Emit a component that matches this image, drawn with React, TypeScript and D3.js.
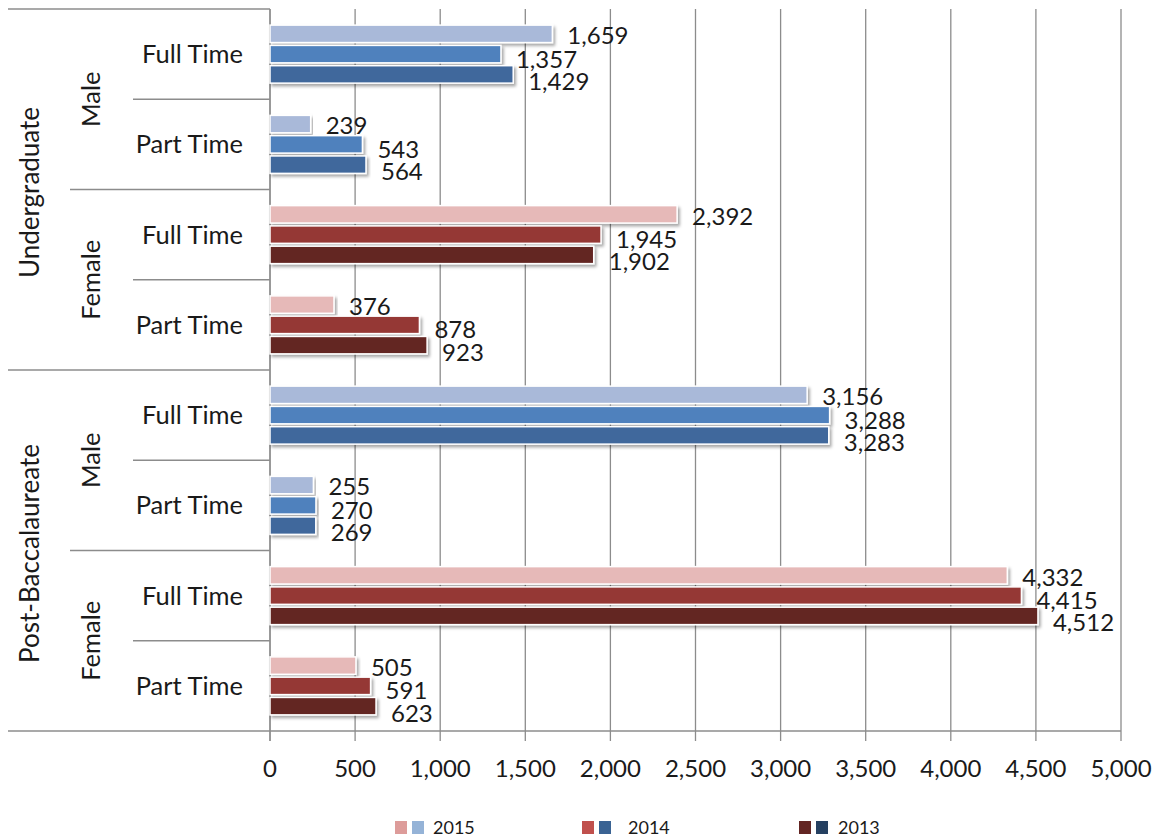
import React from "react";
import * as d3 from "d3";

const years = ["2015", "2014", "2013"];
const levels = ["Undergraduate", "Post-Baccalaureate"];
const genders = ["Male", "Female"];
const statuses = ["Full Time", "Part Time"];

// rows in order: level > gender > status
const values2015 = [1659, 239, 2392, 376, 3156, 255, 4332, 505];
const values2014 = [1357, 543, 1945, 878, 3288, 270, 4415, 591];
const values2013 = [1429, 564, 1902, 923, 3283, 269, 4512, 623];
const xTicks = [0, 500, 1000, 1500, 2000, 2500, 3000, 3500, 4000, 4500, 5000];

const maleColors = ["#A9B9D9", "#4F81BD", "#41689C"];
const femaleColors = ["#E6B9B8", "#953735", "#632523"];
const legendFemale = ["#DD9C9A", "#C0504D", "#632523"];
const legendMale = ["#95B3D7", "#3A6393", "#254061"];

const FONT = "Lato, 'Open Sans', sans-serif";

export default function App() {
  const W = 1156, H = 837;
  const left = 270, right = 1121, top = 9, bottom = 731;
  const x = d3.scaleLinear().domain([0, 5000]).range([left, right]);

  const rows: { level: string; gender: string; status: string; vals: number[] }[] = [];
  let k = 0;
  levels.forEach((l) =>
    genders.forEach((g) =>
      statuses.forEach((s) => {
        rows.push({ level: l, gender: g, status: s, vals: [values2015[k], values2014[k], values2013[k]] });
        k++;
      })
    )
  );

  const y = d3.scaleBand<number>().domain(d3.range(rows.length)).range([top, bottom]).padding(0);
  const rowH = y.step();
  const fmt = d3.format(",");
  const labelDy = [2, 5, 7];

  const levelSpan = rowH * 4;
  const genderSpan = rowH * 2;

  return (
    <div style={{ position: "absolute", left: 0, top: 0 }}>
      <svg width={W} height={H} style={{ display: "block", background: "#fff" }} fontFamily={FONT}>
        <defs>
          <filter id="shadow" x="-5%" y="-30%" width="110%" height="180%">
            <feDropShadow dx="2" dy="2.5" stdDeviation="1.5" floodColor="#000" floodOpacity="0.35" />
          </filter>
        </defs>
        {/* gridlines + ticks */}
        {xTicks.map((t) => (
          <line key={"g" + t} x1={x(t)} x2={x(t)} y1={top} y2={bottom + 10} stroke="#8C8C8C" strokeWidth={1.3} />
        ))}
        {/* bottom axis */}
        <line x1={8} x2={right} y1={bottom} y2={bottom} stroke="#8C8C8C" strokeWidth={1.3} />
        {/* left axis */}
        <line x1={left} x2={left} y1={top} y2={bottom + 10} stroke="#8C8C8C" strokeWidth={1.3} />
        {/* category separator lines */}
        {d3.range(rows.length + 1).map((i) => {
          const yy = top + i * rowH;
          let x1 = 133;
          if (i % 4 === 0) x1 = 8;
          else if (i % 2 === 0) x1 = 70;
          if (i === rows.length) return null;
          return <line key={"s" + i} x1={x1} x2={left} y1={yy} y2={yy} stroke="#8C8C8C" strokeWidth={1.3} />;
        })}
        {/* bars */}
        {rows.map((r, i) => {
          const c = (y(i) as number) + rowH / 2;
          const sub = d3.scaleBand<number>().domain([0, 1, 2]).range([c - 29, c + 29]).paddingInner(0.14);
          const colors = r.gender === "Male" ? maleColors : femaleColors;
          return (
            <g key={"r" + i}>
              {r.vals.map((v, j) => (
                <rect
                  key={j}
                  x={x(0)}
                  y={sub(j)}
                  width={x(v) - x(0)}
                  height={sub.bandwidth()}
                  fill={colors[j]}
                  stroke="#fff"
                  strokeWidth={1.5}
                  filter="url(#shadow)"
                />
              ))}
              {r.vals.map((v, j) => (
                <text
                  key={"t" + j}
                  x={x(v) + 15}
                  y={(sub(j) as number) + sub.bandwidth() / 2 + labelDy[j]}
                  dy="0.35em"
                  fontSize={24}
                  fill="#1a1a1a"
                >
                  {fmt(v)}
                </text>
              ))}
              <text x={243} y={c} dy="0.35em" textAnchor="end" fontSize={25.5} fill="#1a1a1a">
                {r.status}
              </text>
            </g>
          );
        })}
        {/* gender labels */}
        {d3.range(4).map((i) => {
          const c = top + i * genderSpan + genderSpan / 2;
          return (
            <text key={"gl" + i} transform={`translate(91,${c}) rotate(-90)`} textAnchor="middle" dy="0.35em" fontSize={25.5} fill="#1a1a1a">
              {genders[i % 2]}
            </text>
          );
        })}
        {/* level labels */}
        {levels.map((l, i) => {
          const c = top + i * levelSpan + levelSpan / 2 + 3;
          return (
            <text key={"ll" + i} transform={`translate(30,${c}) rotate(-90)`} textAnchor="middle" dy="0.35em" fontSize={26} fill="#1a1a1a">
              {l}
            </text>
          );
        })}
        {/* tick labels */}
        {xTicks.map((t) => (
          <text key={"tl" + t} x={x(t)} y={777} textAnchor="middle" fontSize={24} fill="#1a1a1a">
            {fmt(t)}
          </text>
        ))}
        {/* legend */}
        {years.map((yr, i) => {
          const lx = [395, 582, 799][i];
          const tx = [433, 628, 838][i];
          return (
            <g key={"lg" + yr}>
              <rect x={lx} y={821} width={12} height={13} fill={legendFemale[i]} />
              <rect x={lx + 17} y={821} width={12} height={13} fill={legendMale[i]} />
              <text x={tx} y={834} fontSize={18} fill="#1a1a1a">
                {yr}
              </text>
            </g>
          );
        })}
      </svg>
    </div>
  );
}
